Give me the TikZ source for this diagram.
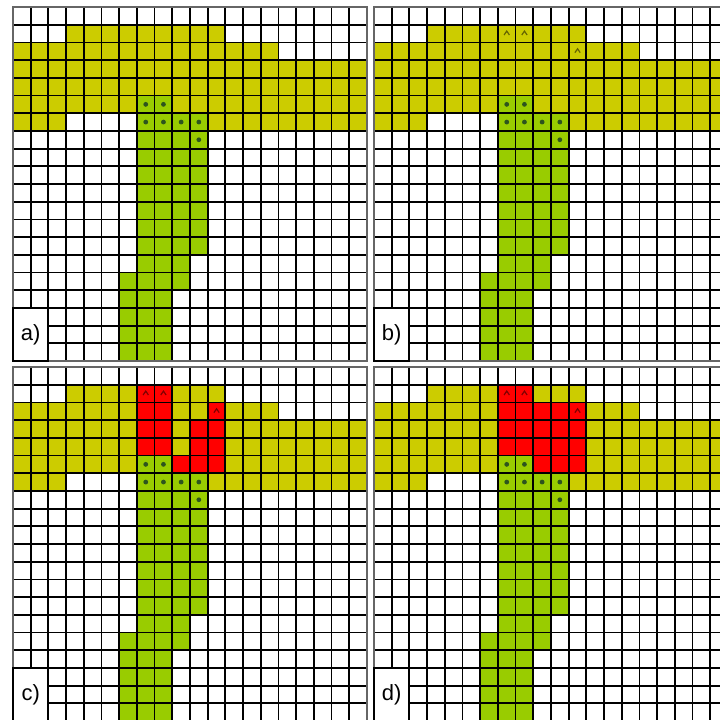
\documentclass[tikz,border=0pt]{standalone}
\usepackage{fontspec}
\setsansfont{Liberation Sans}
\usepackage{xcolor}
\usepackage{tikz}

\definecolor{bandyellow}{RGB}{204,204,0}
\definecolor{stemgreen}{RGB}{153,204,0}
\definecolor{hotred}{RGB}{255,0,0}
\definecolor{seedgreen}{RGB}{45,85,30}

% yellow band and green stem, common to all four panels
\newcommand{\bandstem}{%
   \fill[band] (3,1) rectangle (12,2);
   \fill[band] (0,2) rectangle (15,3);
   \fill[band] (0,3) rectangle (20,6);
   \fill[band] (0,6) rectangle (3,7);
   \fill[band] (11,6) rectangle (20,7);
   \fill[stem] (7,5) rectangle (9,6);
   \fill[stem] (7,6) rectangle (11,14);
   \fill[stem] (7,14) rectangle (10,15);
   \fill[stem] (6,15) rectangle (10,16);
   \fill[stem] (6,16) rectangle (9,20);
   \foreach \c/\r in {7/5,8/5,7/6,8/6,9/6,10/6,10/7}
      \node[seed] (s\c\r) at (\c+0.5,\r+0.5) {};
}
\newcommand{\carets}{%
   \foreach \c/\r in {7/1,8/1,11/2}
      \draw[caret] (\c+0.35,\r+0.58) -- (\c+0.5,\r+0.36) -- (\c+0.65,\r+0.58);
}
\newcommand{\gridtag}[1]{%
   \foreach \i in {0,...,20} {
      \draw[gridline] (\i,0) -- (\i,20);
      \draw[gridline] (0,\i) -- (20,\i);
   }
   \draw[frame] (0,0) rectangle (20,20);
   \node[tag] (tag#1) at (1,18.5) {#1)};
}

\begin{document}
\begin{tikzpicture}[
       x=0.5pt, y=-0.5pt,
       band/.style={fill=bandyellow},
       stem/.style={fill=stemgreen},
       grown/.style={fill=hotred},
       seed/.style={
           circle,
           fill=seedgreen,
           inner sep=0pt,
           minimum size=2.4pt
       },
       caret/.style={black, opacity=0.5, line width=0.6pt},
       gridline/.style={black, line width=0.9pt},
       frame/.style={draw=black!60, line width=0.9pt},
       tag/.style={
           draw=black,
           fill=white,
           line width=0.9pt,
           minimum width=17.7pt,
           minimum height=26.55pt,
           inner sep=0pt,
           font=\sffamily\fontsize{11}{12}\selectfont
       }
   ]

   \clip (0,0) rectangle (720,720);
   \fill[white] (0,0) rectangle (720,720);


   % Panel a
   \begin{scope}[shift={(13,7)}, x=8.85pt, y=-8.85pt]
      \bandstem
      \gridtag{a}
   \end{scope}


   % Panel b
   \begin{scope}[shift={(374,7)}, x=8.85pt, y=-8.85pt]
      \bandstem
      \carets
      \gridtag{b}
   \end{scope}


   % Panel c
   \begin{scope}[shift={(13,367)}, x=8.85pt, y=-8.85pt]
      \bandstem
      \fill[grown] (7,1) rectangle (9,5);
      \fill[grown] (11,2) rectangle (12,3);
      \fill[grown] (10,3) rectangle (12,5);
      \fill[grown] (9,5) rectangle (12,6);
      \carets
      \gridtag{c}
   \end{scope}


   % Panel d
   \begin{scope}[shift={(374,367)}, x=8.85pt, y=-8.85pt]
      \bandstem
      \fill[grown] (7,1) rectangle (9,2);
      \fill[grown] (7,2) rectangle (12,5);
      \fill[grown] (9,5) rectangle (12,6);
      \carets
      \gridtag{d}
   \end{scope}


   \end{tikzpicture}
\end{document}
